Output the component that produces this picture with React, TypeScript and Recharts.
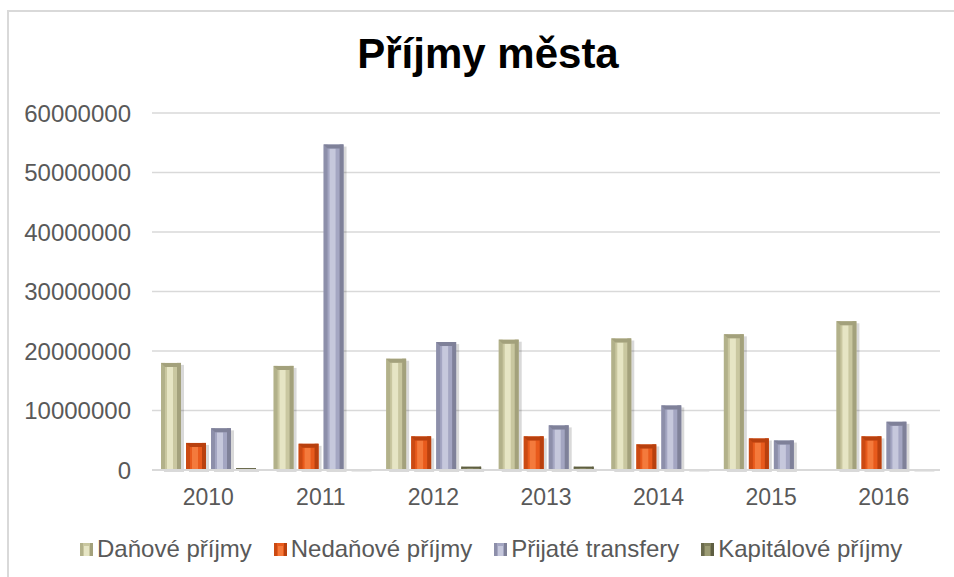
import React from "react";
import { BarChart, Bar, XAxis, YAxis, CartesianGrid } from "recharts";

const years = ["2010", "2011", "2012", "2013", "2014", "2015", "2016"];
const danove = [18000000, 17500000, 18700000, 21900000, 22100000, 22800000, 25000000];
const nedanove = [4550000, 4400000, 5650000, 5650000, 4300000, 5300000, 5650000];
const transfery = [7000000, 54700000, 21500000, 7500000, 10850000, 4950000, 8100000];
const kapitalove = [300000, 100000, 550000, 550000, 100000, 0, 100000];
const yTicks = [0, 10000000, 20000000, 30000000, 40000000, 50000000, 60000000];

const seriesNames = ["Daňové příjmy", "Nedaňové příjmy", "Přijaté transfery", "Kapitálové příjmy"];
const seriesKeys = ["danove", "nedanove", "transfery", "kapitalove"];
const palette = [
  { base: "#c9c7a0", light: "#e6e5c4", dark: "#a3a17c" },
  { base: "#e85a1c", light: "#f47a3c", dark: "#b8400e" },
  { base: "#a4a6c2", light: "#c6c8dc", dark: "#7f8199" },
  { base: "#80805c", light: "#9c9c74", dark: "#5e5e42" },
];

const data = years.map((y, i) => ({
  year: y,
  danove: danove[i],
  nedanove: nedanove[i],
  transfery: transfery[i],
  kapitalove: kapitalove[i],
}));

const FONT = "'Liberation Sans', Arial, sans-serif";

function makeShape(idx: number) {
  const c = palette[idx];
  return (props: any) => {
    const { x, y, width, height } = props;
    if (height == null || height <= 0 || width <= 0) return <g />;
    const b = Math.min(4, width / 4, height / 2);
    return (
      <g>
        <rect x={x + 3} y={y + 2} width={width} height={height} fill="#000" opacity={0.15} />
        <rect x={x} y={y} width={width} height={height} fill={c.base} />
        <rect x={x} y={y} width={b} height={height} fill={c.dark} opacity={0.6} />
        <rect x={x + width - b} y={y} width={b} height={height} fill={c.dark} />
        <rect x={x + width * 0.3} y={y + b} width={width * 0.3} height={Math.max(0, height - b)} fill={c.light} />
        <polygon
          points={`${x},${y} ${x + width},${y} ${x + width - b},${y + b} ${x + b},${y + b}`}
          fill={c.dark}
        />
      </g>
    );
  };
}

const shapes = [0, 1, 2, 3].map((i) => makeShape(i));

const LegendBox = () => (
  <div
    style={{
      position: "absolute",
      left: 80,
      top: 535,
      display: "flex",
      alignItems: "center",
      fontFamily: FONT,
      fontSize: 24,
      lineHeight: "28px",
      color: "#595959",
      whiteSpace: "nowrap",
    }}
  >
    {seriesNames.map((n, i) => (
      <div key={n} style={{ display: "flex", alignItems: "center", marginRight: i < 3 ? 22 : 0 }}>
        <svg width={13} height={13} style={{ marginRight: 4 }}>
          <rect x={0} y={0} width={13} height={13} fill={palette[i].base} />
          <rect x={0} y={0} width={3} height={13} fill={palette[i].dark} opacity={0.6} />
          <rect x={10} y={0} width={3} height={13} fill={palette[i].dark} />
          <rect x={4} y={3} width={5} height={10} fill={palette[i].light} />
        </svg>
        <span>{n}</span>
      </div>
    ))}
  </div>
);

export default function App() {
  return (
    <div style={{ position: "absolute", left: 0, top: 0, width: 954, height: 577, overflow: "hidden", background: "#fff" }}>
      <div
        style={{
          position: "absolute",
          left: 7,
          top: 10,
          width: 960,
          height: 600,
          borderLeft: "2px solid #d9d9d9",
          borderTop: "2px solid #d9d9d9",
        }}
      />
      <div
        style={{
          position: "absolute",
          left: 0,
          top: 30,
          width: 976,
          textAlign: "center",
          fontFamily: FONT,
          fontWeight: "bold",
          fontSize: 42,
          color: "#000",
        }}
      >
        Příjmy města
      </div>
      <div style={{ position: "absolute", left: 0, top: 0 }}>
        <BarChart
          width={954}
          height={577}
          data={data}
          margin={{ top: 113, right: 14, bottom: 0, left: 0 }}
          barCategoryGap={9}
          barGap={5}
        >
          <CartesianGrid vertical={false} stroke="#d9d9d9" strokeWidth={1.5} />
          <XAxis
            dataKey="year"
            axisLine={{ stroke: "#d9d9d9", strokeWidth: 2 }}
            tickLine={false}
            tickSize={0}
            tickMargin={19}
            tick={{ fill: "#595959", fontSize: 23, fontFamily: FONT }}
            height={107}
          />
          <YAxis
            width={152}
            domain={[0, 60000000]}
            ticks={yTicks}
            axisLine={false}
            tickLine={false}
            tickSize={0}
            tickMargin={21}
            tick={{ fill: "#595959", fontSize: 24, fontFamily: FONT }}
            tickFormatter={(v: number) => String(v)}
          />
          {seriesKeys.map((k, i) => (
            <Bar key={k} dataKey={k} name={seriesNames[i]} fill={palette[i].base} shape={shapes[i]} isAnimationActive={false} />
          ))}
        </BarChart>
      </div>
      <LegendBox />
    </div>
  );
}
